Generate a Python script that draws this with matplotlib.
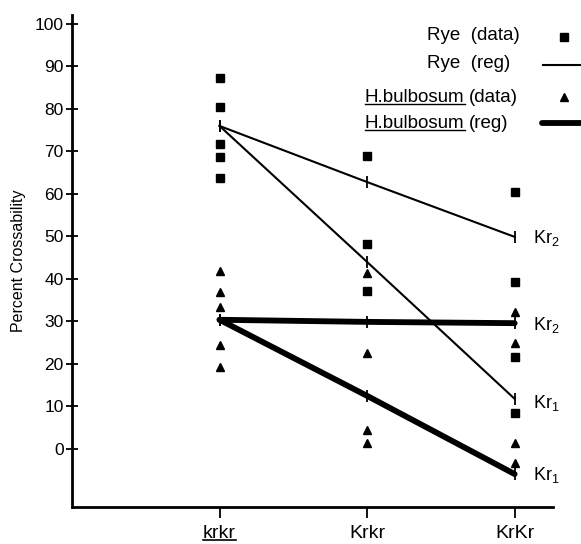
import matplotlib
matplotlib.use("Agg")
import matplotlib.pyplot as plt
from matplotlib.lines import Line2D

plt.rcParams['font.family'] = ['Liberation Sans', 'DejaVu Sans']
plt.rcParams['mathtext.fontset'] = 'custom'
plt.rcParams['mathtext.rm'] = 'Liberation Sans'
plt.rcParams['mathtext.it'] = 'Liberation Sans'

genotypes = ["krkr", "Krkr", "KrKr"]
xpos = [1, 2, 3]

rye_data = {
    1: [87.3, 80.5, 71.8, 68.7, 63.8],
    2: [69.0, 48.3, 37.1],
    3: [60.5, 39.2, 21.6, 8.4],
}
hb_data = {
    1: [41.9, 36.9, 33.4, 24.5, 19.3],
    2: [41.5, 22.6, 4.4, 1.4],
    3: [32.2, 25.0, 1.3, -3.2],
}
rye_reg_kr2 = [76.0, 62.8, 49.9]
rye_reg_kr1 = [76.0, 44.0, 11.8]
hb_reg_kr2 = [30.4, 29.9, 29.6]
hb_reg_kr1 = [30.4, 12.5, -5.9]
yticks = [0, 10, 20, 30, 40, 50, 60, 70, 80, 90, 100]

W, H = 581, 544
fig = plt.figure(figsize=(W / 100, H / 100), dpi=100)
ax = fig.add_axes([72 / W, 1 - 507 / H, (553 - 72) / W, (507 - 15) / H])
ax.set_xlim(0, 3.26)
ax.set_ylim(-13.65, 102.1)

for k in ax.spines:
    ax.spines[k].set_visible(k in ("left", "bottom"))
ax.spines["left"].set_linewidth(2)
ax.spines["bottom"].set_linewidth(2)

# regression lines
ax.plot(xpos, rye_reg_kr2, color="black", lw=1.5, marker="|", ms=9, mew=1.3, zorder=3)
ax.plot(xpos, rye_reg_kr1, color="black", lw=1.5, marker="|", ms=9, mew=1.3, zorder=3)
ax.plot(xpos, hb_reg_kr2, color="black", lw=4.2, marker="|", ms=9, mew=1.3,
        solid_capstyle="round", zorder=3)
ax.plot(xpos, hb_reg_kr1, color="black", lw=4.2, marker="|", ms=9, mew=1.3,
        solid_capstyle="round", zorder=3)

# data points
for x in xpos:
    ax.plot([x] * len(rye_data[x]), rye_data[x], ls="none", marker="s", ms=6.3,
            color="black", zorder=4)
    ax.plot([x] * len(hb_data[x]), hb_data[x], ls="none", marker="^", ms=6.0,
            color="black", zorder=4)

# end labels
lab_kw = dict(fontsize=13, va="center", ha="left")
ax.annotate("Kr$_2$", (3, rye_reg_kr2[-1]), xytext=(13, -1), textcoords="offset points", **lab_kw)
ax.annotate("Kr$_1$", (3, rye_reg_kr1[-1]), xytext=(13, -3), textcoords="offset points", **lab_kw)
ax.annotate("Kr$_2$", (3, hb_reg_kr2[-1]), xytext=(13, -1), textcoords="offset points", **lab_kw)
ax.annotate("Kr$_1$", (3, hb_reg_kr1[-1]), xytext=(13, -1), textcoords="offset points", **lab_kw)

ax.set_yticks(yticks)
ax.set_yticklabels([str(v) for v in yticks], fontsize=12.5)
ax.tick_params(axis="y", direction="inout", length=8, width=1.3, pad=2)
ax.set_xticks(xpos)
ax.set_xticklabels(genotypes, fontsize=14)
ax.tick_params(axis="x", direction="out", length=8, width=1.3, pad=5)
ax.set_ylabel("Percent Crossability", fontsize=11.5, labelpad=6)

# legend (drawn manually, keys at right edge)
def fx(px):
    return px / W

def fy(py):
    return 1 - py / H

tk = dict(fontsize=13.5, va="center")
fig.text(fx(427), fy(35), "Rye  (data)", ha="left", **tk)
fig.text(fx(427), fy(64), "Rye  (reg)", ha="left", **tk)
t1 = fig.text(fx(365), fy(97), "H.bulbosum", ha="left", **tk)
t1b = fig.text(fx(469), fy(97), "(data)", ha="left", **tk)
t2 = fig.text(fx(365), fy(123), "H.bulbosum", ha="left", **tk)
t2b = fig.text(fx(469), fy(123), "(reg)", ha="left", **tk)

fig.add_artist(Line2D([fx(564)], [fy(37)], transform=fig.transFigure, marker="s",
                      ms=5.5, color="black", ls="none"))
fig.add_artist(Line2D([fx(543), fx(585)], [fy(65), fy(65)], transform=fig.transFigure,
                      lw=1.5, color="black"))
fig.add_artist(Line2D([fx(564)], [fy(97)], transform=fig.transFigure, marker="^",
                      ms=5.5, color="black", ls="none"))
fig.add_artist(Line2D([fx(542), fx(585)], [fy(123), fy(123)], transform=fig.transFigure,
                      lw=4.2, color="black", solid_capstyle="round"))

# underlines
fig.canvas.draw()
r = fig.canvas.get_renderer()
inv = fig.transFigure.inverted()
for t in (t1, t2):
    bb = t.get_window_extent(r)
    (x0, y0), (x1, y1) = inv.transform([[bb.x0, bb.y0], [bb.x1, bb.y1]])
    fig.add_artist(Line2D([x0, x1], [y0 + 0.002, y0 + 0.002], transform=fig.transFigure,
                          lw=1.0, color="black"))
lbl = ax.get_xticklabels()[0]
bb = lbl.get_window_extent(r)
(x0, y0), (x1, y1) = inv.transform([[bb.x0, bb.y0], [bb.x1, bb.y1]])
fig.add_artist(Line2D([x0, x1], [y0 + 0.004, y0 + 0.004], transform=fig.transFigure,
                      lw=1.2, color="black"))

fig.savefig("out.png", dpi=100)
